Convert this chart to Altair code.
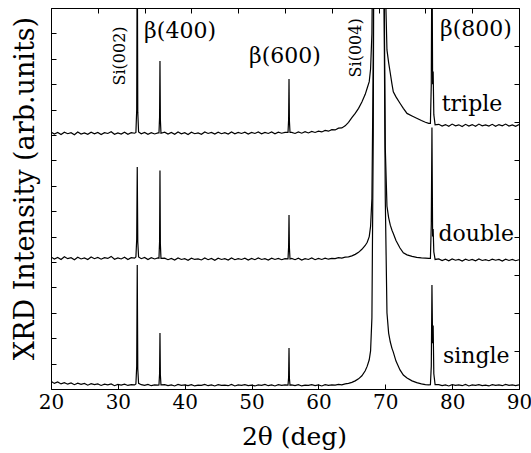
import altair as alt
import pandas as pd

# 2theta grid (deg)
two_theta = (
    [20.0, 20.5, 21.0, 21.5, 22.0, 22.5, 23.0, 23.5, 24.0, 24.5, 25.0, 25.5, 26.0,
     26.5, 27.0, 27.5, 28.0, 28.5, 29.0, 29.5, 30.0, 30.5, 31.0, 31.5, 32.0, 32.5]
    + [32.7, 32.82, 32.9, 32.98, 33.1]
    + [33.5, 34.0, 34.5, 35.0, 35.5, 36.0]
    + [36.15, 36.24, 36.3, 36.36, 36.45]
    + [37.0, 37.5, 38.0, 38.5, 39.0, 39.5, 40.0, 40.5, 41.0, 41.5, 42.0, 42.5, 43.0,
       43.5, 44.0, 44.5, 45.0, 45.5, 46.0, 46.5, 47.0, 47.5, 48.0, 48.5, 49.0, 49.5,
       50.0, 50.5, 51.0, 51.5, 52.0, 52.5, 53.0, 53.5, 54.0, 54.5, 55.0]
    + [55.45, 55.54, 55.6, 55.66, 55.75]
    + [56.0, 56.5, 57.0, 57.5, 58.0, 58.5, 59.0, 59.5, 60.0, 60.5, 61.0, 61.5, 62.0,
       62.5, 63.0, 63.5, 64.0]
    + [64.5, 65.0, 65.5, 66.0, 66.5, 67.0, 67.3, 67.6, 67.8, 68.0,
       68.2, 68.4, 68.7, 69.0, 69.3, 69.6, 69.8, 70.0, 70.25, 70.5,
       70.75, 71.0, 71.2, 71.6, 72.2, 72.7, 73.25, 74.0, 74.7, 75.4,
       76.0, 76.5]
    + [76.75, 76.88, 76.98, 77.08, 77.16, 77.26, 77.45]
    + [78.0, 78.5, 79.0, 79.5, 80.0, 80.5, 81.0, 81.5, 82.0, 82.5, 83.0, 83.5, 84.0,
       84.5, 85.0, 85.5, 86.0, 86.5, 87.0, 87.5, 88.0, 88.5, 89.0, 89.5, 90.0]
)

single = (
    [0.30, 0.22, 0.28, 0.20, 0.25, 0.19, 0.24, 0.17, 0.23, 0.18, 0.22, 0.15, 0.21,
     0.17, 0.20, 0.14, 0.19, 0.16, 0.20, 0.13, 0.18, 0.15, 0.19, 0.14, 0.17, 0.16]
    + [0.20, 0.9, 4.88, 0.8, 0.22]
    + [0.17, 0.14, 0.18, 0.13, 0.16, 0.15]
    + [0.16, 0.6, 2.2, 0.55, 0.16]
    + [0.17, 0.13, 0.16, 0.12, 0.18, 0.14, 0.16, 0.13, 0.17, 0.12,
       0.15, 0.14, 0.18, 0.13, 0.16, 0.12, 0.17, 0.14, 0.15, 0.13,
       0.18, 0.12, 0.16, 0.14, 0.17, 0.13, 0.15, 0.12, 0.16, 0.14,
       0.18, 0.13, 0.16, 0.12, 0.17, 0.14, 0.16]
    + [0.15, 0.45, 1.61, 0.42, 0.15]
    + [0.16, 0.13, 0.17, 0.12, 0.15, 0.14, 0.17, 0.13, 0.16, 0.12,
       0.17, 0.14, 0.16, 0.15, 0.18, 0.16, 0.20]
    + [0.22, 0.26, 0.32, 0.40, 0.52, 0.72, 0.90, 1.15, 1.5, 2.8,
       10.0, 28.0, 42.0, 45.0, 42.0, 28.0, 16.0, 7.5, 3.0, 2.2,
       1.85, 1.6, 1.45, 1.1, 0.75, 0.55, 0.43, 0.32, 0.25, 0.20,
       0.17, 0.16]
    + [0.17, 0.9, 4.09, 1.8, 2.5, 0.6, 0.17]
    + [0.17, 0.13, 0.16, 0.12, 0.17, 0.14, 0.16, 0.13, 0.18, 0.12,
       0.16, 0.14, 0.17, 0.13, 0.15, 0.12, 0.17, 0.14, 0.16, 0.13,
       0.18, 0.14, 0.16, 0.13, 0.16]
)

double = (
    [5.20, 5.12, 5.18, 5.10, 5.21, 5.13, 5.17, 5.09, 5.19, 5.12, 5.16, 5.10, 5.20,
     5.13, 5.18, 5.11, 5.17, 5.14, 5.22, 5.11, 5.16, 5.12, 5.19, 5.10, 5.17, 5.15]
    + [5.20, 5.9, 8.74, 5.8, 5.20]
    + [5.13, 5.18, 5.10, 5.17, 5.12, 5.16]
    + [5.15, 5.8, 8.60, 5.7, 5.14]
    + [5.15, 5.09, 5.14, 5.08, 5.16, 5.10, 5.13, 5.07, 5.15, 5.10,
       5.12, 5.08, 5.16, 5.09, 5.14, 5.07, 5.15, 5.10, 5.13, 5.08,
       5.16, 5.09, 5.13, 5.10, 5.15, 5.08, 5.14, 5.09, 5.16, 5.10,
       5.13, 5.08, 5.15, 5.10, 5.14, 5.09, 5.13]
    + [5.12, 5.6, 6.85, 5.55, 5.12]
    + [5.14, 5.09, 5.15, 5.08, 5.13, 5.10, 5.16, 5.09, 5.14, 5.10,
       5.15, 5.11, 5.14, 5.13, 5.17, 5.15, 5.19]
    + [5.20, 5.24, 5.30, 5.38, 5.50, 5.65, 5.78, 6.0, 6.4, 7.5,
       13.0, 30.0, 45.0, 50.0, 45.0, 30.0, 17.0, 9.5, 7.2, 6.75,
       6.45, 6.25, 6.12, 5.85, 5.55, 5.36, 5.28, 5.22, 5.18, 5.16,
       5.15, 5.14]
    + [5.14, 6.5, 10.3, 6.0, 6.3, 5.4, 5.10]
    + [5.12, 5.06, 5.11, 5.05, 5.12, 5.07, 5.10, 5.04, 5.11, 5.06,
       5.10, 5.05, 5.12, 5.06, 5.09, 5.05, 5.11, 5.07, 5.10, 5.04,
       5.11, 5.06, 5.10, 5.05, 5.09]
)

triple = (
    [10.12, 10.04, 10.10, 10.02, 10.11, 10.05, 10.09, 10.01, 10.12, 10.04, 10.08,
     10.03, 10.11, 10.05, 10.10, 10.02, 10.09, 10.06, 10.13, 10.03, 10.08, 10.04,
     10.11, 10.03, 10.09, 10.07]
    + [10.10, 11.0, 18.0, 10.9, 10.12]
    + [10.05, 10.10, 10.03, 10.09, 10.04, 10.08]
    + [10.08, 10.7, 12.91, 10.6, 10.07]
    + [10.11, 10.04, 10.10, 10.03, 10.12, 10.05, 10.09, 10.02, 10.11, 10.05,
       10.08, 10.03, 10.12, 10.06, 10.10, 10.04, 10.11, 10.05, 10.09, 10.04,
       10.12, 10.05, 10.10, 10.06, 10.11, 10.04, 10.10, 10.06, 10.12, 10.05,
       10.10, 10.06, 10.12, 10.05, 10.11, 10.07, 10.10]
    + [10.10, 10.6, 12.2, 10.55, 10.10]
    + [10.10, 10.06, 10.12, 10.07, 10.13, 10.08, 10.14, 10.10, 10.15, 10.12,
       10.18, 10.15, 10.21, 10.20, 10.27, 10.28, 10.36]
    + [10.50, 10.68, 10.85, 11.05, 11.30, 11.60, 11.85, 12.10, 12.6, 14.0,
       20.0, 35.0, 47.0, 50.0, 47.0, 35.0, 24.0, 16.0, 13.35, 12.85,
       12.43, 12.0, 11.7, 11.5, 11.25, 11.05, 10.85, 10.75, 10.66, 10.57,
       10.50, 10.46]
    + [10.46, 12.0, 18.0, 12.0, 12.5, 10.8, 10.40]
    + [10.42, 10.35, 10.41, 10.34, 10.43, 10.36, 10.40, 10.33, 10.42, 10.35,
       10.41, 10.34, 10.43, 10.36, 10.40, 10.35, 10.42, 10.34, 10.41, 10.36,
       10.43, 10.35, 10.40, 10.34, 10.41]
)

assert len(two_theta) == len(single) == len(double) == len(triple)

# annotations (data coordinates)
peak_labels = ["β(400)", "β(600)", "β(800)", "triple", "double", "single"]
peak_label_x = [39.3, 55.0, 83.56, 82.97, 83.6, 83.6]
peak_label_y = [13.82, 12.85, 13.9, 10.94, 5.83, 1.02]

si_labels = ["Si(002)", "Si(004)"]
si_label_x = [30.32, 65.6]
si_label_y = [13.11, 13.43]

x_major = [20, 30, 40, 50, 60, 70, 80, 90]
x_top = [20, 27, 34, 41, 48, 55, 62, 69, 76, 83, 90]
y_left = list(range(0, 16))
y_right = [0, 1.5, 3, 4.5, 6, 7.5, 9, 10.5, 12, 13.5, 15]

rows = []
for name, ys in [("single", single), ("double", double), ("triple", triple)]:
    for xv, yv in zip(two_theta, ys):
        rows.append({"two_theta": xv, "intensity": yv, "sample": name})
df = pd.DataFrame(rows)

FONT = "DejaVu Serif"
xs = alt.Scale(domain=[20, 90], nice=False, zero=False)
ys_ = alt.Scale(domain=[0, 15], nice=False, zero=False)

lines = alt.Chart(df).mark_line(color="black", strokeWidth=1.2, clip=True).encode(
    x=alt.X("two_theta:Q", scale=xs, axis=alt.Axis(
        title="2θ (deg)", values=x_major, tickSize=5, offset=-5, domain=False,
        labelFont=FONT, labelFontSize=20, labelColor="black", labelBaseline="alphabetic",
        labelPadding=19, labelFlush=False, tickColor="black", tickWidth=1,
        titleFont=FONT, titleFontSize=25, titleFontWeight="normal", titleColor="black",
        titleX=243, titleY=60, titleBaseline="alphabetic", titleAlign="center",
        grid=False)),
    y=alt.Y("intensity:Q", scale=ys_, axis=alt.Axis(
        title="XRD Intensity (arb.units)", values=y_left, tickSize=5, offset=-5,
        domain=False, labels=False, tickColor="black", tickWidth=1,
        titleFont=FONT, titleFontSize=27, titleFontWeight="normal", titleColor="black",
        titleAngle=270, titleX=-23, titleY=180, titleAlign="center",
        titleBaseline="alphabetic", grid=False)),
    detail="sample:N",
)

frame_axes = alt.Chart(df).mark_line(opacity=0).encode(
    x=alt.X("two_theta:Q", scale=xs, axis=alt.Axis(
        orient="top", values=x_top, tickSize=5, offset=-5, domain=False, labels=False,
        tickColor="black", tickWidth=1, title=None, grid=False)),
    y=alt.Y("intensity:Q", scale=ys_, axis=alt.Axis(
        orient="right", values=y_right, tickSize=5, offset=-5, domain=False, labels=False,
        tickColor="black", tickWidth=1, title=None, grid=False)),
    detail="sample:N",
)

lab_df = pd.DataFrame({"label": peak_labels, "x": peak_label_x, "y": peak_label_y})
labels = alt.Chart(lab_df).mark_text(
    font=FONT, fontSize=22, color="black", align="center", baseline="alphabetic"
).encode(
    x=alt.X("x:Q", scale=xs, axis=None),
    y=alt.Y("y:Q", scale=ys_, axis=None),
    text="label:N",
)

si_df = pd.DataFrame({"label": si_labels, "x": si_label_x, "y": si_label_y})
si_text = alt.Chart(si_df).mark_text(
    font=FONT, fontSize=16, color="black", align="center", baseline="middle", angle=270
).encode(
    x=alt.X("x:Q", scale=xs, axis=None),
    y=alt.Y("y:Q", scale=ys_, axis=None),
    text="label:N",
)

chart = alt.layer(lines, frame_axes, labels, si_text).resolve_axis(
    x="independent", y="independent"
).properties(
    width=468, height=381,
    autosize=alt.AutoSizeParams(type="none"),
    padding={"left": 51, "top": 8, "right": 12, "bottom": 64},
    background="white",
).configure_view(stroke="black", strokeWidth=1)

chart.save("out.html", embed_options={"renderer": "svg", "actions": False})
